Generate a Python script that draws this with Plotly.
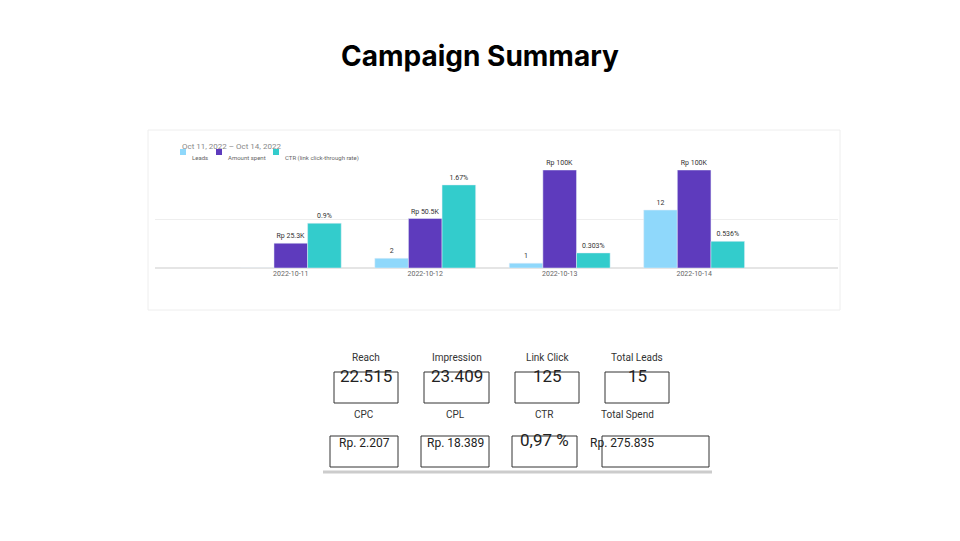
import plotly.graph_objects as go

dates = ["2022-10-11", "2022-10-12", "2022-10-13", "2022-10-14"]
leads = [0, 2, 1, 12]
spent = [25300, 50500, 100000, 100000]
spent_labels = ["Rp 25.3K", "Rp 50.5K", "Rp 100K", "Rp 100K"]
ctr = [0.9, 1.67, 0.303, 0.536]
ctr_labels = ["0.9%", "1.67%", "0.303%", "0.536%"]
leads_labels = ["", "2", "1", "12"]

kpi_row1 = ["Reach", "Impression", "Link Click", "Total Leads"]
kpi_val1 = ["22.515", "23.409", "125", "15"]
kpi_row2 = ["CPC", "CPL", "CTR", "Total Spend"]
kpi_val2 = ["Rp. 2.207", "Rp. 18.389", "0,97 %", "Rp. 275.835"]

W, H = 960, 541
OFF = 8  # page body margin
px = lambda x: (x - OFF) / W
py = lambda y: 1 - (y - OFF) / H

xs = list(range(len(dates)))
fig = go.Figure()
tf = dict(family="Roboto", size=7, color="#333")
fig.add_bar(x=xs, y=leads, width=0.25, offset=-0.375, marker_color="#8fd8fb",
            text=leads_labels, textposition="outside", textfont=tf, cliponaxis=False, yaxis="y")
fig.add_bar(x=xs, y=spent, width=0.25, offset=-0.125, marker_color="#5e3bbd",
            text=spent_labels, textposition="outside", textfont=tf, cliponaxis=False, yaxis="y2")
fig.add_bar(x=xs, y=ctr, width=0.25, offset=0.125, marker_color="#33cccc",
            text=ctr_labels, textposition="outside", textfont=tf, cliponaxis=False, yaxis="y3")

ydom = [py(268), py(170)]
fig.update_layout(
    width=W, height=H, margin=dict(l=0, r=0, t=0, b=0),
    plot_bgcolor="white", paper_bgcolor="white", showlegend=False,
    xaxis=dict(domain=[px(155), px(838)], range=[-1.01, 4.07], tickvals=xs, ticktext=dates,
               tickfont=dict(family="Roboto", size=7, color="#666"), showgrid=False, zeroline=False),
    yaxis=dict(domain=ydom, range=[0, 20.3], showticklabels=False, gridcolor="#eeeeee",
               dtick=10.15, zeroline=True, zerolinecolor="#e5e5e5"),
    yaxis2=dict(overlaying="y", range=[0, 100000], visible=False),
    yaxis3=dict(overlaying="y", range=[0, 1.97], visible=False),
    font=dict(family="Roboto"),
)

P = dict(xref="paper", yref="paper", showarrow=False)
shapes = [
    dict(type="rect", xref="paper", yref="paper", x0=px(148), x1=px(840), y0=py(310), y1=py(130),
         line=dict(color="#eeeeee", width=1)),
    dict(type="line", xref="paper", yref="paper", x0=px(323), x1=px(712), y0=py(472), y1=py(472),
         line=dict(color="#cccccc", width=3)),
]
ann = [
    dict(text="<b>Campaign Summary</b>", x=px(480), y=py(37), **P,
         font=dict(family="Inter", size=28, color="black")),
    dict(text="Oct 11, 2022 – Oct 14, 2022", x=px(180), y=py(140), xanchor="left", **P,
         font=dict(size=8, color="#888")),
]
for xx, lab, col in [(180, "Leads", "#8fd8fb"), (216, "Amount spent", "#5e3bbd"), (273, "CTR (link click-through rate)", "#33cccc")]:
    shapes.append(dict(type="rect", xref="paper", yref="paper", x0=px(xx), x1=px(xx + 6),
                       y0=py(155), y1=py(149), fillcolor=col, line_width=0))
    ann.append(dict(text=lab, x=px(xx + 10), y=py(152), xanchor="left", **P,
                    font=dict(size=6, color="#666")))

row1_boxes = [(334, 398), (424, 489), (515, 579), (605, 669)]
row2_boxes = [(330, 398), (421, 489), (512, 577), (602, 709)]
for boxes, labels, vals, ly, y0, y1, vs in [
        (row1_boxes, kpi_row1, kpi_val1, 357, 372, 403, 17),
        (row2_boxes, kpi_row2, kpi_val2, 422, 436, 467, 12)]:
    for (a, b), lab, v in zip(boxes, labels, vals):
        shapes.append(dict(type="rect", xref="paper", yref="paper", x0=px(a), x1=px(b),
                           y0=py(y1), y1=py(y0), line=dict(color="#333", width=1)))
        ann.append(dict(text=lab, x=px((a + b) / 2), y=py(ly), **P,
                        font=dict(size=10, color="#333")))
        size = 17 if v == "0,97 %" else vs
        ann.append(dict(text=v, x=px((a + b) / 2), y=py((y0 + y1) / 2), **P,
                        font=dict(size=size, color="#222")))
fig.update_layout(shapes=shapes, annotations=ann)
fig.write_html("out.html")
